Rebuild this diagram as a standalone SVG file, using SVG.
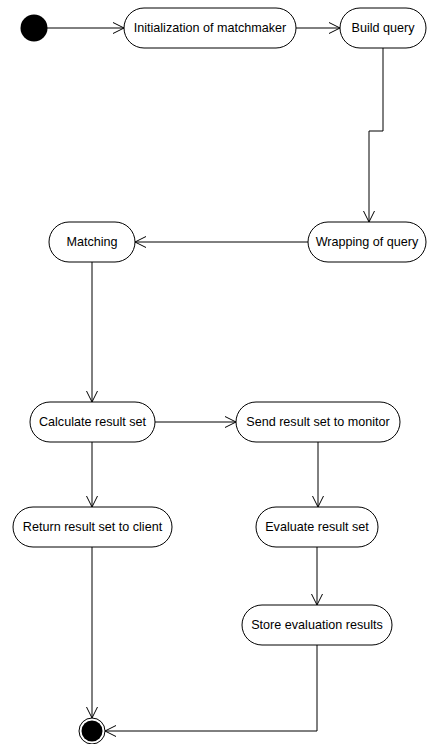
<svg xmlns="http://www.w3.org/2000/svg" width="427" height="744" viewBox="0 0 427 744">
<style>
.n{fill:#fff;stroke:#000;stroke-width:1}
.t{font-family:"Liberation Sans",Arial,sans-serif;font-size:12.6px;fill:#000;text-anchor:middle;dominant-baseline:central}
.c{fill:none;stroke:#000;stroke-width:1;marker-end:url(#a)}
</style>
<defs>
<marker id="a" markerWidth="12" markerHeight="12" viewBox="0 0 12 12" refX="11" refY="6" orient="auto" markerUnits="userSpaceOnUse">
<path d="M0,0.5 L11,6 L0,11.5" fill="none" stroke="#000" stroke-width="1"/>
</marker>
</defs>
<rect width="427" height="744" fill="#fff"/>
<g id="connectors">
<path class="c" d="M47,28 H124"/>
<path class="c" d="M296,28 H340"/>
<path class="c" d="M383,48 V131 H369 V222"/>
<path class="c" d="M308,242 H135"/>
<path class="c" d="M92,262 V402"/>
<path class="c" d="M155,422 H236"/>
<path class="c" d="M92,442 V507"/>
<path class="c" d="M318,442 V507"/>
<path class="c" d="M317,547 V605"/>
<path class="c" d="M92,547 V718"/>
<path class="c" d="M317,645 V731 H105"/>
</g>
<g id="start"><circle cx="34" cy="28" r="13.5" fill="#000"/></g>
<g id="init"><rect class="n" x="124" y="8" width="172" height="40" rx="20"/><text class="t" x="210" y="28">Initialization of matchmaker</text></g>
<g id="build"><rect class="n" x="340" y="8" width="86" height="40" rx="20"/><text class="t" x="383" y="28">Build query</text></g>
<g id="wrap"><rect class="n" x="308" y="222" width="118" height="40" rx="20"/><text class="t" x="367" y="242">Wrapping of query</text></g>
<g id="matching"><rect class="n" x="49" y="222" width="86" height="40" rx="20"/><text class="t" x="92" y="242">Matching</text></g>
<g id="calc"><rect class="n" x="30" y="402" width="125" height="40" rx="20"/><text class="t" x="92.5" y="422">Calculate result set</text></g>
<g id="send"><rect class="n" x="236" y="402" width="164" height="40" rx="20"/><text class="t" x="318" y="422">Send result set to monitor</text></g>
<g id="ret"><rect class="n" x="13" y="507" width="159" height="40" rx="20"/><text class="t" x="92.5" y="527">Return result set to client</text></g>
<g id="eval"><rect class="n" x="256" y="507" width="122" height="40" rx="20"/><text class="t" x="317" y="527">Evaluate result set</text></g>
<g id="store"><rect class="n" x="242" y="605" width="150" height="40" rx="20"/><text class="t" x="317" y="625">Store evaluation results</text></g>
<g id="final"><circle cx="92" cy="731" r="13" fill="#fff" stroke="#000" stroke-width="1"/><circle cx="92" cy="731" r="10.5" fill="#000"/></g>
</svg>
